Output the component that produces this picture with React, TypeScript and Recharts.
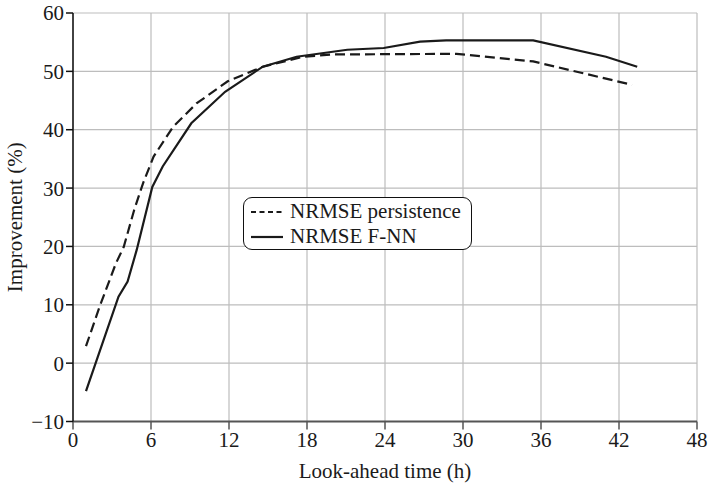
import React from 'react';
import { LineChart, Line, XAxis, YAxis, CartesianGrid } from 'recharts';

const persistenceHours = [1, 2.05, 3.3, 3.9, 4.7, 5.4, 6.2, 7.7, 9.5, 11.9, 14.6, 17.7, 20, 29.5, 35.4, 43];
const persistenceValues = [2.9, 9.7, 17.1, 19.9, 26.2, 30.9, 35.4, 40.5, 44.5, 48.3, 50.8, 52.5, 52.9, 53.0, 51.7, 47.7];
const fnnHours = [1, 3.5, 4.2, 4.9, 6.1, 6.9, 9.1, 11.7, 14.6, 17.2, 21.1, 23.9, 26.7, 28.7, 35.4, 41.0, 43.4];
const fnnValues = [-4.8, 11.4, 14, 19.4, 30.2, 33.7, 41.1, 46.5, 50.8, 52.5, 53.7, 54.0, 55.1, 55.3, 55.3, 52.5, 50.8];
const xTicks = [0, 6, 12, 18, 24, 30, 36, 42, 48];
const yTicks = [-10, 0, 10, 20, 30, 40, 50, 60];
const seriesNames = ['NRMSE persistence', 'NRMSE F-NN'];
const xTitle = 'Look-ahead time (h)';
const yTitle = 'Improvement (%)';

const persistenceData = persistenceHours.map((h, i) => ({ h, v: persistenceValues[i] }));
const fnnData = fnnHours.map((h, i) => ({ h, v: fnnValues[i] }));

const FONT = '"Liberation Serif", "DejaVu Serif", serif';
const INK = '#1a1a1a';
const FS = 21;

const LegendBox = () => (
  <div
    style={{
      position: 'absolute',
      left: 243,
      top: 197,
      border: '1.3px solid #111',
      borderRadius: 9,
      width: 229,
      height: 53,
      background: '#fff',
      fontFamily: FONT,
      fontSize: FS,
      color: INK,
      boxSizing: 'border-box',
      padding: '1px 0 0 6px',
      lineHeight: '25px',
    }}
  >
    <div style={{ display: 'flex', alignItems: 'center' }}>
      <svg width={34} height={10} style={{ marginRight: 6 }}>
        <line x1={1} y1={5} x2={33} y2={5} stroke={INK} strokeWidth={2.2} strokeDasharray="5 3.5" />
      </svg>
      <span>{seriesNames[0]}</span>
    </div>
    <div style={{ display: 'flex', alignItems: 'center' }}>
      <svg width={34} height={10} style={{ marginRight: 6 }}>
        <line x1={1} y1={5} x2={33} y2={5} stroke={INK} strokeWidth={2.2} />
      </svg>
      <span>{seriesNames[1]}</span>
    </div>
  </div>
);

const XTitle = (props: any) => {
  const { viewBox } = props;
  const cx = viewBox.x + viewBox.width / 2;
  return (
    <text x={cx} y={478} textAnchor="middle" fontFamily={FONT} fontSize={FS} fill={INK}>
      {xTitle}
    </text>
  );
};

const YTitle = (props: any) => {
  const { viewBox } = props;
  const cy = viewBox.y + viewBox.height / 2;
  return (
    <text
      x={22}
      y={cy}
      textAnchor="middle"
      fontFamily={FONT}
      fontSize={FS}
      fill={INK}
      transform={`rotate(-90, 22, ${cy})`}
    >
      {yTitle}
    </text>
  );
};

const fmt = (v: number) => String(v).replace('-', '\u2212');

export default function App() {
  return (
    <div style={{ position: 'absolute', left: 0, top: 0, width: 708, height: 493, background: '#fff' }}>
      <LineChart width={708} height={493} margin={{ top: 13, right: 11, bottom: 0, left: 0 }}>
        <CartesianGrid stroke="#bdbdbd" strokeWidth={1.2} />
        <XAxis
          type="number"
          dataKey="h"
          domain={[0, 48]}
          ticks={xTicks}
          allowDataOverflow
          height={71.5}
          stroke="#555"
          strokeWidth={2.2}
          tickSize={8}
          tick={{ fontFamily: FONT, fontSize: FS, fill: INK, dy: 1 }}
          tickLine={{ stroke: '#555', strokeWidth: 1.5 }}
          label={<XTitle />}
        />
        <YAxis
          type="number"
          domain={[-10, 60]}
          ticks={yTicks}
          width={73}
          stroke="#111"
          strokeWidth={1.5}
          tickSize={7}
          tickFormatter={fmt}
          tick={{ fontFamily: FONT, fontSize: FS, fill: INK }}
          tickLine={{ stroke: '#111', strokeWidth: 1.5 }}
          label={<YTitle />}
        />
        <Line
          data={persistenceData}
          dataKey="v"
          name={seriesNames[0]}
          type="linear"
          stroke={INK}
          strokeWidth={2.2}
          strokeDasharray="10 5"
          dot={false}
          isAnimationActive={false}
        />
        <Line
          data={fnnData}
          dataKey="v"
          name={seriesNames[1]}
          type="linear"
          stroke={INK}
          strokeWidth={2.2}
          dot={false}
          isAnimationActive={false}
        />
      </LineChart>
      <LegendBox />
    </div>
  );
}
